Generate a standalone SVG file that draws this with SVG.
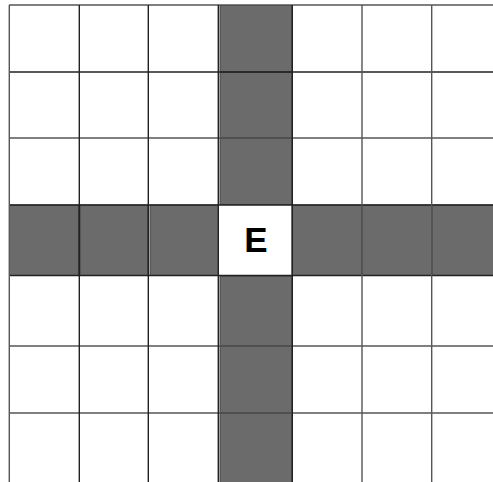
<svg xmlns="http://www.w3.org/2000/svg" width="493" height="482" viewBox="0 0 493 482">
<style>
.bg{fill:#ffffff}
.g{fill:#6b6b6b;stroke:#454545;stroke-width:1}
.ln{stroke:#222222;stroke-width:1.4;fill:none}
.lg{stroke:#555555;stroke-width:1.4;fill:none}
.t{font-family:"Liberation Sans",Arial,sans-serif;font-weight:bold;font-size:35px;fill:#000000;text-anchor:middle}
</style>
<rect class="bg" x="0" y="0" width="493" height="482"/>
<g id="shaded">
<rect class="g" x="220" y="5.5" width="72" height="66"/>
<rect class="g" x="220" y="72.5" width="72" height="65"/>
<rect class="g" x="220" y="138.5" width="72" height="66"/>
<rect class="g" x="220" y="276" width="72" height="69.5"/>
<rect class="g" x="220" y="346.5" width="72" height="66"/>
<rect class="g" x="220" y="413.5" width="72" height="69"/>
<rect class="g" x="9.5" y="205" width="69" height="70.5"/>
<rect class="g" x="80" y="205" width="68" height="70.5"/>
<rect class="g" x="150" y="205" width="68.5" height="70.5"/>
<rect class="g" x="292" y="205" width="70" height="70.5"/>
<rect class="g" x="362" y="205" width="70" height="70.5"/>
<rect class="g" x="432" y="205" width="62" height="70.5"/>
</g>
<g id="grid">
<line class="lg" x1="9" y1="5" x2="493" y2="5"/>
<line class="ln" x1="9" y1="72" x2="493" y2="72"/>
<line class="lg" x1="9" y1="138" x2="493" y2="138"/>
<line class="ln" x1="9" y1="205" x2="493" y2="205"/>
<line class="ln" x1="9" y1="275.5" x2="493" y2="275.5"/>
<line class="lg" x1="9" y1="346" x2="493" y2="346"/>
<line class="lg" x1="9" y1="413" x2="493" y2="413"/>
<line class="lg" x1="9.3" y1="5" x2="9.3" y2="482"/>
<line class="ln" x1="79.3" y1="5" x2="79.3" y2="482"/>
<line class="ln" x1="148.3" y1="5" x2="148.3" y2="482"/>
<line class="ln" x1="218.3" y1="5" x2="218.3" y2="482"/>
<line class="ln" x1="292.3" y1="5" x2="292.3" y2="482"/>
<line class="lg" x1="362" y1="5" x2="362" y2="482"/>
<line class="lg" x1="431.7" y1="5" x2="431.7" y2="482"/>
</g>
<g id="cell-E">
<text class="t" x="256" y="251.5">E</text>
</g>
</svg>
